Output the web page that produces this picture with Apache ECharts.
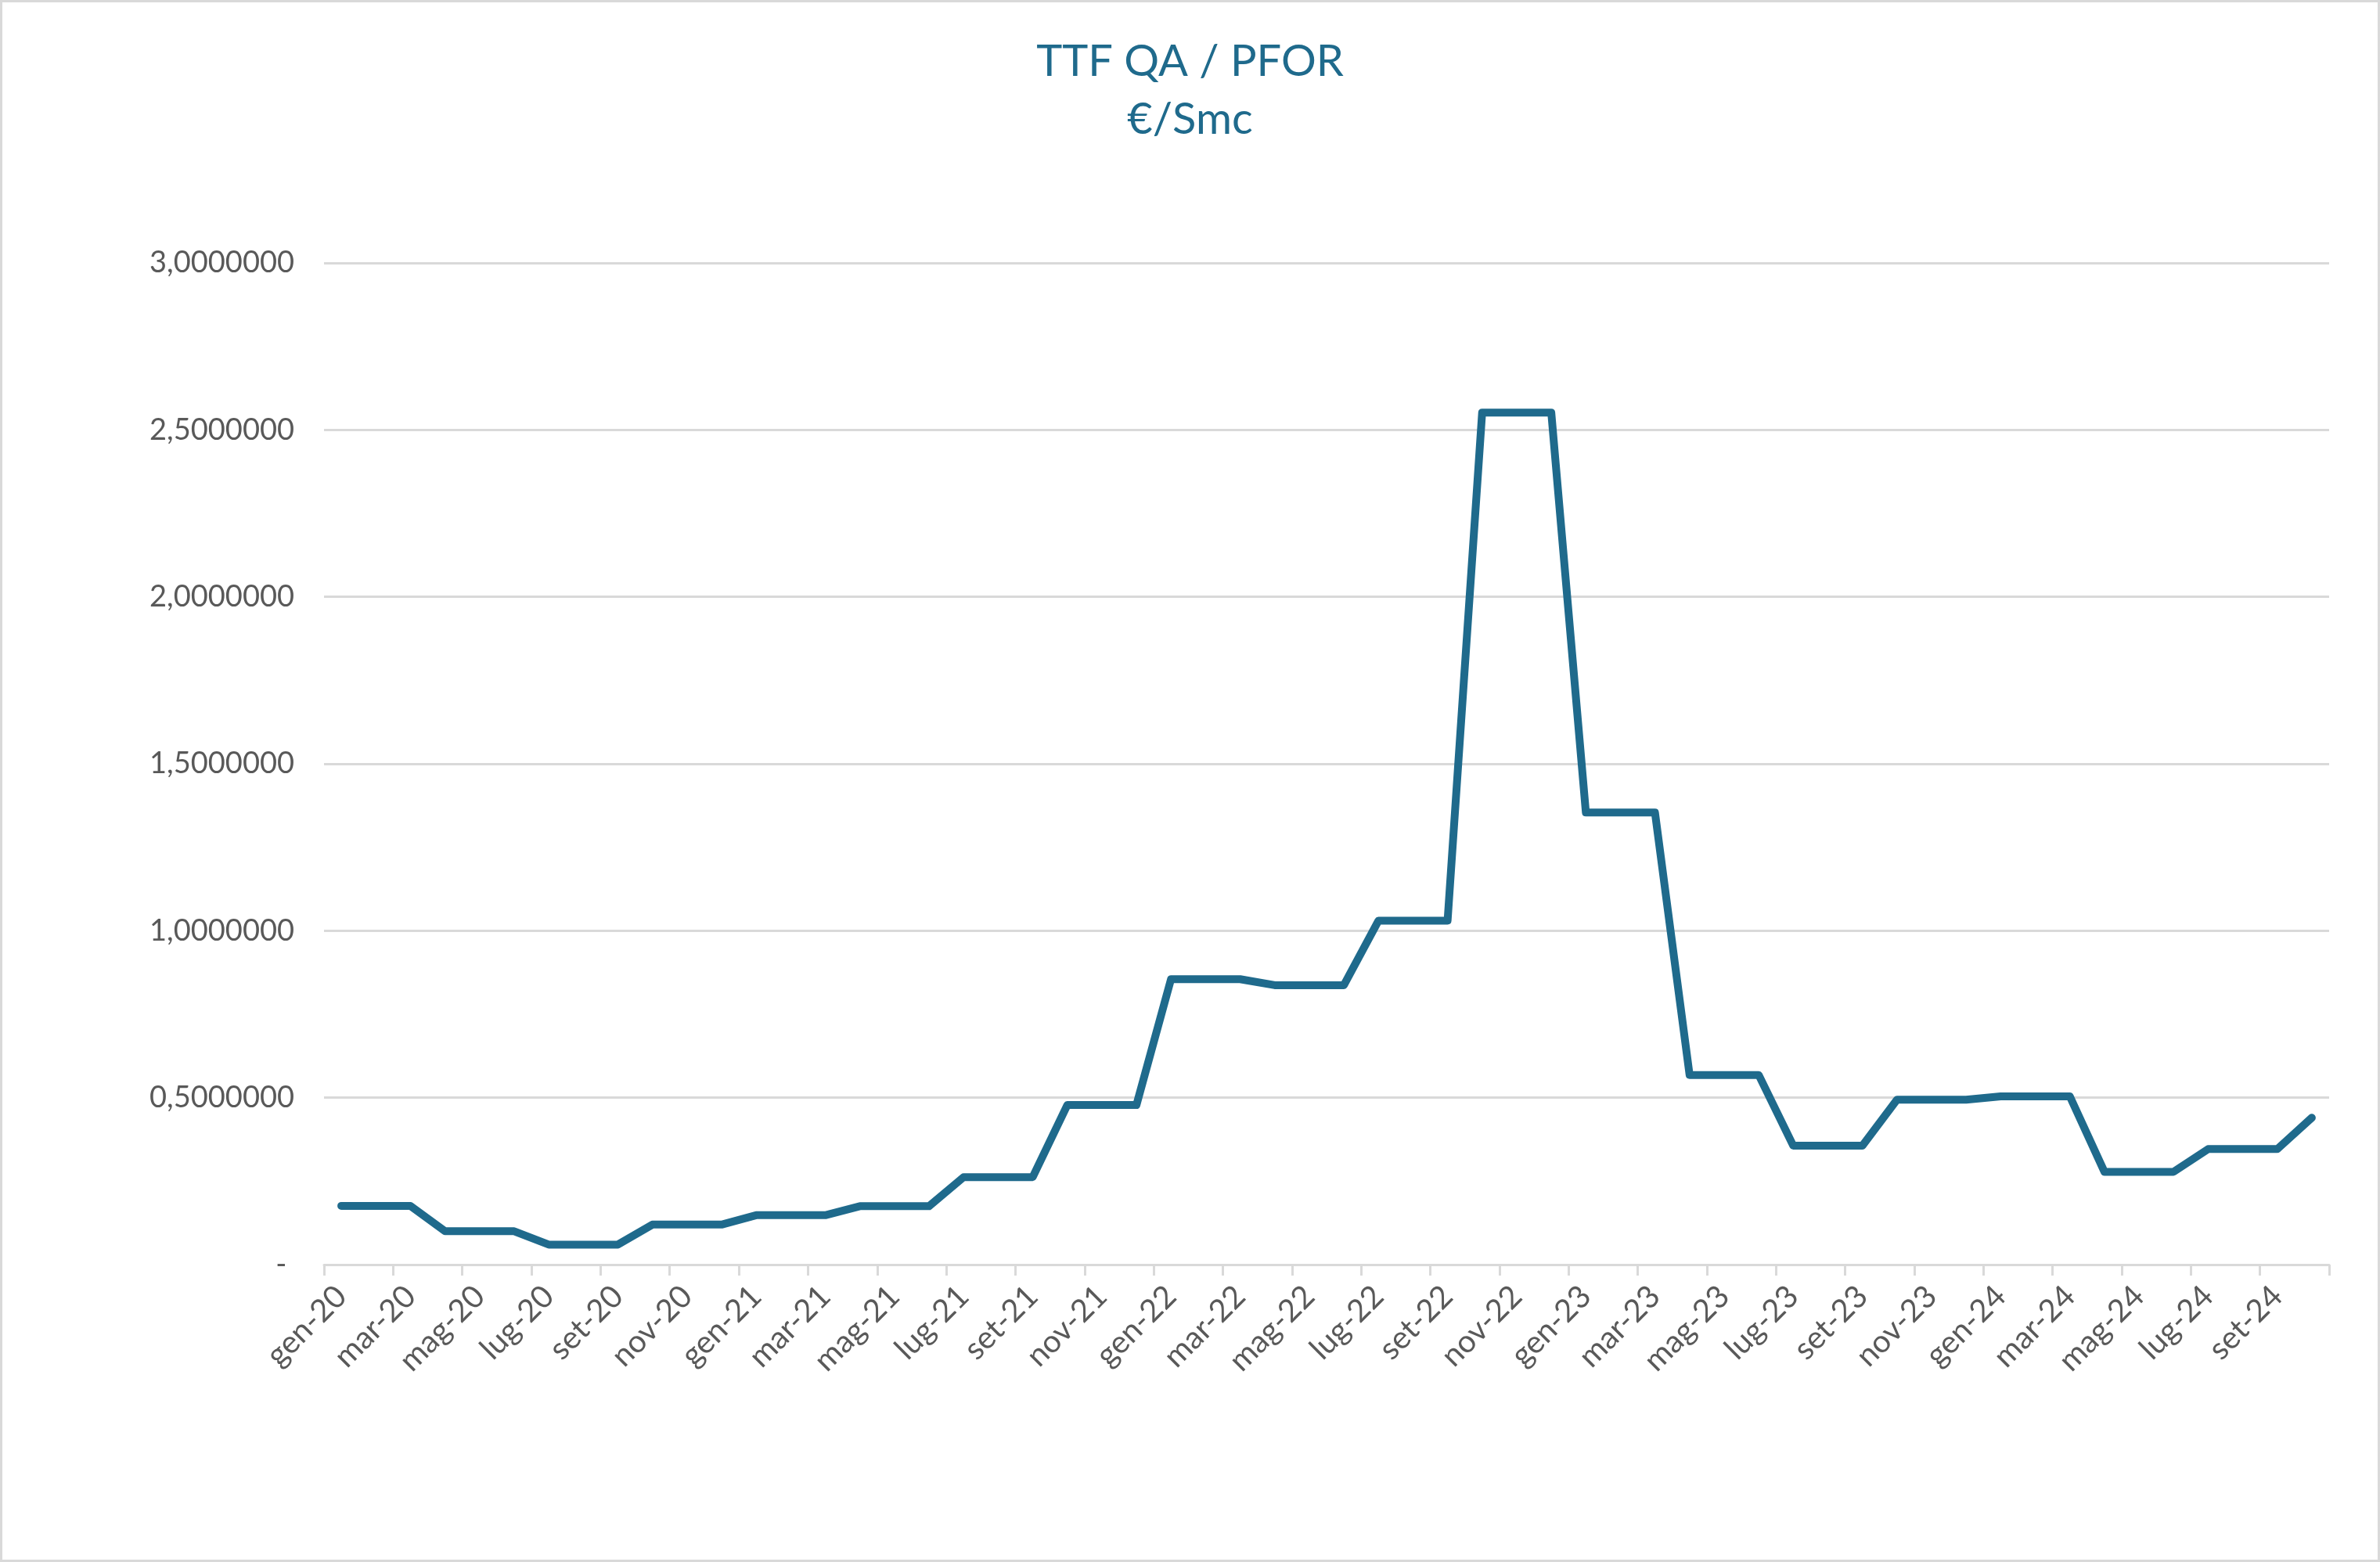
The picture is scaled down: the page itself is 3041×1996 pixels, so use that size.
<!DOCTYPE html>
<html>
<head>
<meta charset="utf-8">
<script src="https://cdn.jsdelivr.net/npm/echarts@6/dist/echarts.min.js"></script>
<style>
html,body{margin:0;padding:0;background:#fff;}
#chart{width:3041px;height:1996px;box-sizing:border-box;border:3px solid #D9D9D9;}
</style>
</head>
<body>
<div id="chart"></div>
<script>
const categories = [
  'gen-20','feb-20','mar-20','apr-20','mag-20','giu-20','lug-20','ago-20','set-20','ott-20','nov-20','dic-20',
  'gen-21','feb-21','mar-21','apr-21','mag-21','giu-21','lug-21','ago-21','set-21','ott-21','nov-21','dic-21',
  'gen-22','feb-22','mar-22','apr-22','mag-22','giu-22','lug-22','ago-22','set-22','ott-22','nov-22','dic-22',
  'gen-23','feb-23','mar-23','apr-23','mag-23','giu-23','lug-23','ago-23','set-23','ott-23','nov-23','dic-23',
  'gen-24','feb-24','mar-24','apr-24','mag-24','giu-24','lug-24','ago-24','set-24','ott-24'
];
const values = [
  0.176,0.176,0.176, 0.100,0.100,0.100, 0.060,0.060,0.060, 0.120,0.120,0.120,
  0.148,0.148,0.148, 0.175,0.175,0.175, 0.262,0.262,0.262, 0.478,0.478,0.478,
  0.855,0.855,0.855, 0.837,0.837,0.837, 1.030,1.030,1.030, 2.552,2.552,2.552,
  1.354,1.354,1.354, 0.568,0.568,0.568, 0.356,0.356,0.356, 0.494,0.494,0.494,
  0.504,0.504,0.504, 0.278,0.278,0.278, 0.346,0.346,0.346, 0.440
];
const yTicks = [0, 0.5, 1.0, 1.5, 2.0, 2.5, 3.0];
const titleLines = ['TTF QA / PFOR', '€/Smc'];

const FONT = "Lato, 'Noto Sans', sans-serif";
const chart = echarts.init(document.getElementById('chart'), null, {renderer:'canvas'});
chart.setOption({
  backgroundColor:'#ffffff',
  animation:false,
  title:{
    text:titleLines.join('\n'),
    left:'center', top:34,
    textStyle:{color:'#1F6A8C', fontSize:56, fontWeight:'normal', fontFamily:FONT, lineHeight:74}
  },
  grid:{left:411, right:62, top:333, bottom:377, containLabel:false},
  xAxis:{
    type:'category',
    data:categories,
    boundaryGap:true,
    axisLine:{show:true, lineStyle:{color:'#D9D9D9', width:3}},
    axisTick:{show:true, interval:1, length:14, lineStyle:{color:'#D9D9D9', width:3}},
    axisLabel:{interval:1, rotate:45, margin:34, color:'#595959', fontSize:40, fontFamily:FONT},
    splitLine:{show:false}
  },
  yAxis:{
    type:'value',
    min:yTicks[0], max:yTicks[yTicks.length-1], interval:0.5,
    axisLine:{show:false}, axisTick:{show:false},
    axisLabel:{
      margin:38, color:'#595959', fontSize:38, fontFamily:FONT,
      formatter:function(v){ return v === 0 ? '- ' : v.toFixed(7).replace('.', ','); }
    },
    splitLine:{show:true, lineStyle:{color:'#D9D9D9', width:3}}
  },
  series:[{
    type:'line',
    data:values,
    symbol:'none',
    lineStyle:{color:'#1F6A8C', width:10, join:'round', cap:'round'},
    itemStyle:{color:'#1F6A8C'}
  }]
});
</script>
</body>
</html>
